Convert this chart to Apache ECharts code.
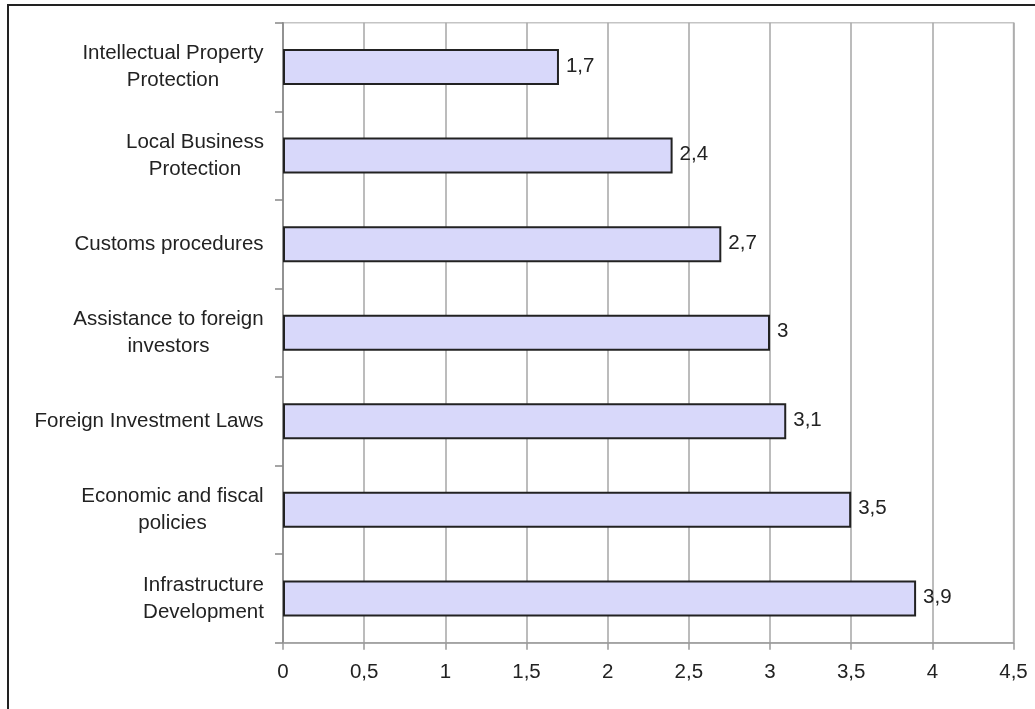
<!DOCTYPE html>
<html><head><meta charset="utf-8">
<script src="https://cdn.jsdelivr.net/npm/echarts@6/dist/echarts.min.js"></script>
<style>html,body{margin:0;padding:0;background:#fff}#c{width:1035px;height:709px}</style>
</head><body><div id="c"></div>
<script>
const categories = [
  'Intellectual Property\nProtection',
  'Local Business\nProtection',
  'Customs procedures',
  'Assistance to foreign\ninvestors',
  'Foreign Investment Laws',
  'Economic and fiscal\npolicies',
  'Infrastructure\nDevelopment'
];
const values = [1.7, 2.4, 2.7, 3, 3.1, 3.5, 3.9];
const xMin = 0, xMax = 4.5, xStep = 0.5;

const FS = 20.5;
const FONT = '"Liberation Sans", Arial, sans-serif';
const ctx = document.createElement('canvas').getContext('2d');
ctx.font = FS + 'px "Liberation Sans"';
function fmtNum(v) { return String(Math.round(v * 10) / 10).replace('.', ','); }

const chart = echarts.init(document.getElementById('c'));
chart.setOption({
  animation: false,
  backgroundColor: '#fff',
  graphic: [{
    type: 'rect', silent: true,
    shape: { x: 8, y: 5, width: 1060, height: 740 },
    style: { fill: 'none', stroke: '#222', lineWidth: 2 }
  }],
  grid: {
    left: 283, right: 21.5, top: 22.7, bottom: 66.3,
    show: true, borderColor: '#c4c4c4', borderWidth: 1.5
  },
  xAxis: {
    type: 'value', min: xMin, max: xMax, interval: xStep,
    axisLine: { show: true, lineStyle: { color: '#999', width: 1.5 } },
    axisTick: { show: true, length: 7, lineStyle: { color: '#999', width: 1.5 } },
    axisLabel: { margin: 19, color: '#222', fontSize: FS, fontFamily: FONT, formatter: fmtNum },
    splitLine: { show: true, lineStyle: { color: '#a6a6a6', width: 1.5 } }
  },
  yAxis: {
    type: 'category', data: categories, inverse: true,
    axisLine: { show: true, lineStyle: { color: '#888', width: 1.5 } },
    axisTick: { show: true, length: 8, lineStyle: { color: '#888', width: 1.5 } },
    splitLine: { show: false },
    axisLabel: {
      margin: 19, color: '#222', fontSize: FS, fontFamily: FONT, lineHeight: 27,
      formatter: function (s) {
        const lines = s.split('\n');
        const w = Math.ceil(Math.max.apply(null, lines.map(l => ctx.measureText(l).width)));
        return lines.map(l => '{w' + w + '|' + l + '}').join('\n');
      },
      rich: (function () {
        const r = {};
        for (let w = 20; w <= 320; w++) {
          r['w' + w] = { width: w, align: 'center', fontSize: FS, fontFamily: FONT, color: '#222', lineHeight: 27 };
        }
        return r;
      })()
    }
  },
  series: [{
    type: 'bar', data: values, barWidth: 36,
    itemStyle: { color: '#d8d8fa', borderColor: '#222', borderWidth: 2 },
    label: {
      show: true, position: 'right', distance: 7, color: '#222', fontSize: FS, fontFamily: FONT,
      offset: [0, -1],
      formatter: p => fmtNum(p.value)
    }
  }]
});
</script></body></html>
